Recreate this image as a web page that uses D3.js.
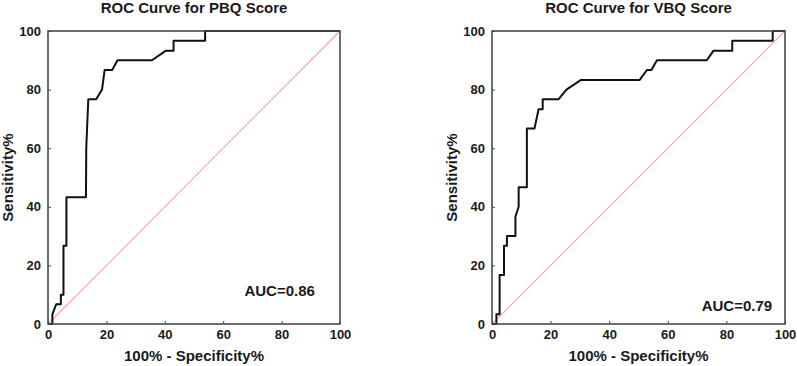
<!DOCTYPE html>
<html>
<head>
<meta charset="utf-8">
<script src="https://cdn.jsdelivr.net/npm/d3@7"></script>
<style>
    body { margin: 0; background: #fff; }
    svg { display: block; font-family: "Liberation Sans", Arial, sans-serif; font-weight: bold; }
</style>
</head>
<body>
<div id="chart"></div>
<script>
// ROC curve points: [100% - specificity, sensitivity]
const pbqRoc = [
    [0, 0], [1.5, 0], [1.5, 3.3], [2.8, 6.7], [4.4, 6.7], [4.4, 10], [5.3, 10], [5.3, 26.7],
    [6.3, 26.7], [6.3, 43.3], [13, 43.3], [13.1, 60], [13.8, 76.7], [16.5, 76.7], [18.5, 80],
    [19.4, 86.7], [22, 86.7], [23.8, 90], [35.6, 90], [40.4, 93.3], [43, 93.3], [43, 96.7],
    [53.8, 96.7], [53.8, 100], [100, 100]
];
const vbqRoc = [
    [0, 0], [1.5, 0], [1.5, 3.3], [2.6, 3.3], [2.6, 16.7], [4.1, 16.7], [4.1, 26.7], [5.1, 26.7],
    [5.1, 30], [8, 30], [8, 36.7], [9.1, 40], [9.1, 46.7], [11.9, 46.7], [11.9, 66.7], [14.5, 66.7],
    [15.9, 73.3], [17.3, 73.3], [17.3, 76.7], [22.7, 76.7], [25.4, 80], [30.4, 83.3], [50.4, 83.3],
    [52.9, 86.7], [54.4, 86.7], [56.3, 90], [73.3, 90], [75.6, 93.3], [82, 93.3], [82, 96.7],
    [95.8, 96.7], [95.8, 100], [100, 100]
];
const titles = ["ROC Curve for PBQ Score", "ROC Curve for VBQ Score"];
const aucLabels = ["AUC=0.86", "AUC=0.79"];
const tickValues = [0, 20, 40, 60, 80, 100];
const referenceLine = [[0, 0], [100, 100]];

class RocPlot {
    constructor(_config) {
        this.config = {
            parent: _config.parent,
            left: _config.left,
            top: _config.top || 31,
            width: _config.width || 292,
            height: _config.height || 293,
            aucPos: _config.aucPos
        };
        this.data = _config.data;
        this.title = _config.title;
        this.auc = _config.auc;
        this.initVis();
    }

    initVis() {
        const vis = this;
        const c = vis.config;

        vis.g = c.parent.append("g")
            .attr("transform", `translate(${c.left},${c.top})`);

        vis.xScale = d3.scaleLinear().domain([0, 100]).range([0, c.width]);
        vis.yScale = d3.scaleLinear().domain([0, 100]).range([c.height, 0]);

        // axes, ticks pointing inward
        vis.g.append("g")
            .attr("transform", `translate(0,${c.height})`)
            .call(d3.axisBottom(vis.xScale).tickValues(tickValues).tickSizeInner(-3).tickSizeOuter(0).tickPadding(6))
            .call(g => g.select(".domain").remove());
        vis.g.append("g")
            .call(d3.axisLeft(vis.yScale).tickValues(tickValues).tickSizeInner(-3).tickSizeOuter(0).tickPadding(7))
            .call(g => g.select(".domain").remove());
        vis.g.selectAll(".tick text")
            .attr("font-size", 13)
            .attr("font-family", "Liberation Sans, Arial, sans-serif")
            .attr("font-weight", "bold")
            .attr("fill", "#1a1a1a");
        vis.g.selectAll(".tick line").attr("stroke", "#444");

        // diagonal reference
        const line = d3.line()
            .x(d => vis.xScale(d[0]))
            .y(d => vis.yScale(d[1]));
        vis.g.append("path")
            .attr("fill", "none")
            .attr("stroke", "#ffa3a3")
            .attr("stroke-width", 1.1)
            .attr("d", line(referenceLine));

        // ROC curve
        vis.g.append("path")
            .attr("fill", "none")
            .attr("stroke", "#111")
            .attr("stroke-width", 2)
            .attr("stroke-linejoin", "round")
            .attr("d", line(vis.data));

        // frame
        vis.g.append("rect")
            .attr("width", c.width)
            .attr("height", c.height)
            .attr("fill", "none")
            .attr("stroke", "#4a4a4a")
            .attr("stroke-width", 1.6);

        vis.g.append("text")
            .attr("x", c.width / 2)
            .attr("y", -18)
            .attr("text-anchor", "middle")
            .attr("font-size", 15)
            .attr("fill", "#1a1a1a")
            .text(vis.title);

        vis.g.append("text")
            .attr("x", c.width / 2)
            .attr("y", c.height + 37)
            .attr("text-anchor", "middle")
            .attr("font-size", 15)
            .attr("fill", "#1a1a1a")
            .text("100% - Specificity%");

        vis.g.append("text")
            .attr("transform", "rotate(-90)")
            .attr("x", -c.height / 2)
            .attr("y", -35)
            .attr("text-anchor", "middle")
            .attr("font-size", 15)
            .attr("fill", "#1a1a1a")
            .text("Sensitivity%");

        vis.g.append("text")
            .attr("x", vis.xScale(c.aucPos[0]))
            .attr("y", vis.yScale(c.aucPos[1]))
            .attr("text-anchor", "end")
            .attr("font-size", 15)
            .attr("fill", "#1a1a1a")
            .text(vis.auc);
    }
}

const svg = d3.select("#chart")
    .append("svg")
    .attr("width", 797)
    .attr("height", 366);

new RocPlot({ parent: svg, left: 48, width: 292, data: pbqRoc, title: titles[0], auc: aucLabels[0], aucPos: [91.4, 9.6] });
new RocPlot({ parent: svg, left: 492, width: 293, data: vbqRoc, title: titles[1], auc: aucLabels[1], aucPos: [95.6, 4.4] });
</script>
</body>
</html>
